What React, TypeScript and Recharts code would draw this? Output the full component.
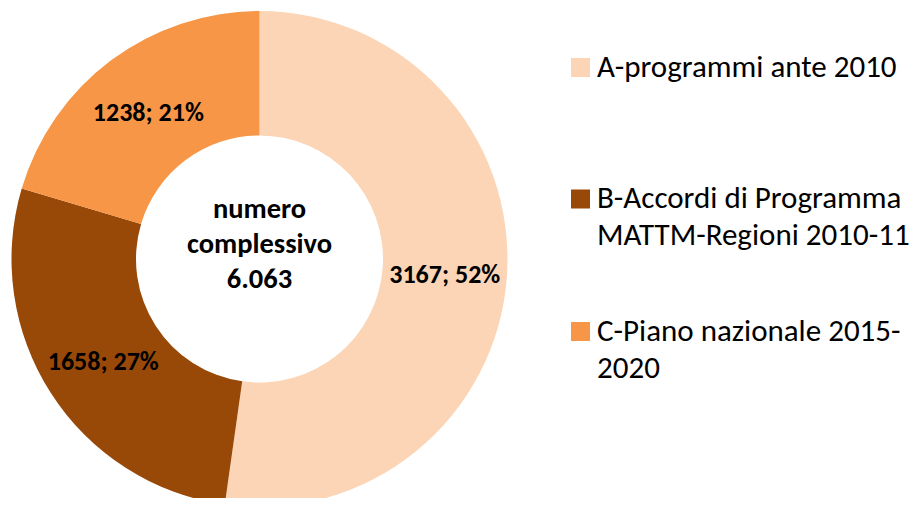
import { PieChart, Pie, Cell, Legend } from "recharts"

const categories = [
  "A-programmi ante 2010",
  "B-Accordi di Programma MATTM-Regioni 2010-11",
  "C-Piano nazionale 2015-2020",
]
const values = [3167, 1658, 1238]
const percentLabels = ["52%", "27%", "21%"]
const legendLines = [
  ["A-programmi ante 2010"],
  ["B-Accordi di Programma", "MATTM-Regioni 2010-11"],
  ["C-Piano nazionale 2015-", "2020"],
]
const colors = ["#FBD5B5", "#984807", "#F79646"]
const centerLines = ["numero", "complessivo", "6.063"]

const FONT = "Carlito, Calibri, Lato, 'Liberation Sans', sans-serif"
const RAD = Math.PI / 180
const CX = 259.5
const CY = 259

const data = categories.map((name, i) => ({ name, value: values[i], pct: percentLabels[i] }))

function SliceLabel(props: any) {
  const { cx, cy, midAngle, innerRadius, outerRadius, index } = props
  const r = (innerRadius + outerRadius) / 2
  const x = cx + r * Math.cos(-midAngle * RAD)
  const y = cy + r * Math.sin(-midAngle * RAD)
  return (
    <text x={x} y={y + 11} textAnchor="middle" fontFamily={FONT} fontWeight={700} fontSize={26} fill="#000">
      {`${values[index]}; ${percentLabels[index]}`}
    </text>
  )
}

// legend drawn by hand: baselines of first line per entry
const legendBase = [76.5, 208, 340.5]
const LEG_X = 560

function LegendBox() {
  return (
    <svg width={360} height={400} style={{ display: "block" }}>
      {legendLines.map((lines, i) => (
        <g key={i}>
          <rect x={571 - LEG_X} y={legendBase[i] - 18.5} width={19} height={19} fill={colors[i]} />
          <text fontFamily={FONT} fontSize={31} fill="#000">
            {lines.map((l, j) => (
              <tspan key={j} x={597 - LEG_X} y={legendBase[i] + j * 37}>
                {l}
              </tspan>
            ))}
          </text>
        </g>
      ))}
    </svg>
  )
}

export default function App() {
  return (
    <div style={{ margin: -8, width: 920, height: 506, overflow: "hidden", background: "#fff", position: "relative" }}>
      <PieChart width={920} height={520} margin={{ top: 0, right: 0, bottom: 0, left: 0 }}>
        <Pie
          data={data}
          dataKey="value"
          nameKey="name"
          cx={CX}
          cy={CY}
          innerRadius={123.5}
          outerRadius={248}
          startAngle={90}
          endAngle={-270}
          stroke="none"
          label={SliceLabel}
          labelLine={false}
          isAnimationActive={false}
        >
          {data.map((d, i) => (
            <Cell key={d.name} fill={colors[i]} />
          ))}
        </Pie>
        <text x={CX} textAnchor="middle" fontFamily={FONT} fontWeight={700} fontSize={28.5} fill="#000">
          {centerLines.map((l, i) => (
            <tspan key={i} x={CX} y={218 + i * 35}>
              {l}
            </tspan>
          ))}
        </text>
        <Legend
          layout="vertical"
          align="right"
          verticalAlign="top"
          wrapperStyle={{ position: "absolute", left: LEG_X, top: 0, width: 360, height: 400 }}
          content={() => <LegendBox />}
        />
      </PieChart>
    </div>
  )
}
